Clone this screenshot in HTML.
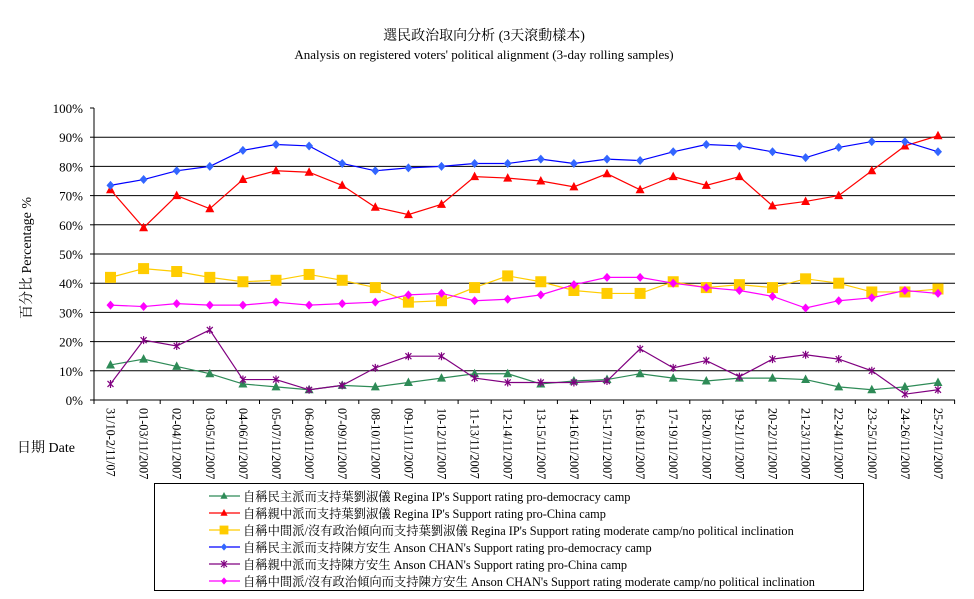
<!DOCTYPE html>
<html><head><meta charset="utf-8"><style>
body{margin:0;background:#fff;width:974px;height:599px;overflow:hidden}
svg{display:block;font-family:"Liberation Serif","Noto Serif CJK SC","Noto Sans CJK TC",serif}
</style></head><body>
<svg id="c" width="974" height="599" xmlns="http://www.w3.org/2000/svg"></svg>
<script>
const S=document.getElementById('c');
let h='';
const X0=94,W=33.1,Y0=400,K=2.92;
const px=i=>X0+16.5+i*W, py=v=>Y0-v*K;
h+='<text x="484" y="40" font-size="14" text-anchor="middle">選民政治取向分析 (3天滾動樣本)</text>';
h+='<text x="484" y="59" font-size="13" text-anchor="middle">Analysis on registered voters\' political alignment (3-day rolling samples)</text>';
for(let p=10;p<=90;p+=10)h+=`<line x1="${X0}" x2="955" y1="${py(p)}" y2="${py(p)}" stroke="#000" stroke-width="1"/>`;
for(let p=0;p<=100;p+=10){h+=`<line x1="${X0-4}" x2="${X0}" y1="${py(p)}" y2="${py(p)}" stroke="#000"/><text x="83" y="${py(p)+5}" font-size="13" text-anchor="end">${p}%</text>`;}
h+=`<line x1="${X0}" x2="${X0}" y1="108" y2="400" stroke="#000"/><line x1="${X0}" x2="955" y1="400" y2="400" stroke="#000"/>`;
for(let i=0;i<=26;i++)h+=`<line x1="${X0+i*W}" x2="${X0+i*W}" y1="400" y2="404" stroke="#000"/>`;
const labs=['31/10-2/11/07'];
for(let d=1;d<=25;d++){const a=String(d).padStart(2,'0'),b=String(d+2).padStart(2,'0');labs.push(`${a}-${b}/11/2007`);}
labs.forEach((l,i)=>{const x=px(i)-4;h+=`<text transform="translate(${x},408) rotate(90)" font-size="12.2">${l}</text>`;});
h+='<text transform="translate(31,258) rotate(-90)" font-size="14" text-anchor="middle">百分比 Percentage %</text>';
h+='<text x="17" y="452" font-size="14">日期 Date</text>';
const D=[
{c:'#2e8b57',m:'tri',d:[12,14,11.5,9,5.5,4.5,3.5,5,4.5,6,7.5,9,9,5.5,6.5,7,9,7.5,6.5,7.5,7.5,7,4.5,3.5,4.5,6],t:"自稱民主派而支持葉劉淑儀 Regina IP's Support rating pro-democracy camp"},
{c:'#ff0000',m:'tri',d:[72,59,70,65.5,75.5,78.5,78,73.5,66,63.5,67,76.5,76,75,73,77.5,72,76.5,73.5,76.5,66.5,68,70,78.5,87,90.5],t:"自稱親中派而支持葉劉淑儀 Regina IP's Support rating pro-China camp"},
{c:'#ffcc00',m:'sq',d:[42,45,44,42,40.5,41,43,41,38.5,33.5,34,38.5,42.5,40.5,37.5,36.5,36.5,40.5,38.5,39.5,38.5,41.5,40,37,37,38],t:"自稱中間派/沒有政治傾向而支持葉劉淑儀  Regina IP's Support rating moderate camp/no political inclination"},
{c:'#0000ff',mc:'#3366ff',m:'dia',d:[73.5,75.5,78.5,80,85.5,87.5,87,81,78.5,79.5,80,81,81,82.5,81,82.5,82,85,87.5,87,85,83,86.5,88.5,88.5,85],t:"自稱民主派而支持陳方安生 Anson CHAN's Support rating pro-democracy camp"},
{c:'#800080',m:'star',d:[5.5,20.5,18.5,24,7,7,3.5,5,11,15,15,7.5,6,6,6,6.5,17.5,11,13.5,8,14,15.5,14,10,2,3.5],t:"自稱親中派而支持陳方安生 Anson CHAN's Support rating pro-China camp"},
{c:'#ff00ff',m:'dia',d:[32.5,32,33,32.5,32.5,33.5,32.5,33,33.5,36,36.5,34,34.5,36,39.5,42,42,40,38.5,37.5,35.5,31.5,34,35,37.5,36.5],t:"自稱中間派/沒有政治傾向而支持陳方安生  Anson CHAN's Support rating moderate camp/no political inclination"}];
function mk(s,x,y,sc){const c=s.mc||s.c;sc=sc||1;
 if(s.m=='tri')return `<polygon points="${x},${y-5*sc} ${x+4.5*sc},${y+3.5*sc} ${x-4.5*sc},${y+3.5*sc}" fill="${c}"/>`;
 if(s.m=='sq')return `<rect x="${x-5.5*sc}" y="${y-5.5*sc}" width="${11*sc}" height="${11*sc}" fill="${c}"/>`;
 if(s.m=='dia')return `<polygon points="${x},${y-4.5*sc} ${x+4*sc},${y} ${x},${y+4.5*sc} ${x-4*sc},${y}" fill="${c}"/>`;
 return `<path d="M${x-3} ${y-3}L${x+3} ${y+3}M${x+3} ${y-3}L${x-3} ${y+3}M${x} ${y-4}V${y+4}" stroke="${c}" stroke-width="1.2"/>`;}
D.forEach(s=>{h+=`<polyline fill="none" stroke="${s.c}" stroke-width="1.2" points="${s.d.map((v,i)=>px(i)+','+py(v)).join(' ')}"/>`;
 s.d.forEach((v,i)=>h+=mk(s,px(i),py(v)));});
h+='<rect x="154.5" y="483.5" width="709" height="107" fill="#fff" stroke="#000"/>';
D.forEach((s,i)=>{const y=496+i*17;h+=`<line x1="209" x2="240" y1="${y}" y2="${y}" stroke="${s.c}" stroke-width="1.2"/>`+mk(s,224,y,0.8)+`<text x="243" y="${y+5}" font-size="12.3">${s.t}</text>`;});
S.innerHTML=h;
</script>
</body></html>
